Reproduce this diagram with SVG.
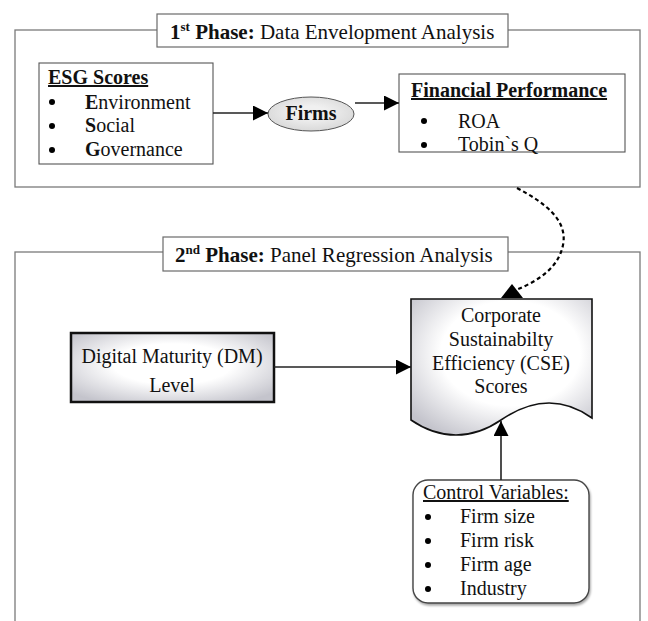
<svg xmlns="http://www.w3.org/2000/svg" width="648" height="621" viewBox="0 0 648 621">
<style>
text{font-family:"Liberation Serif","Times New Roman",serif;font-size:20px;fill:#111}
.b{font-weight:bold}
.u{text-decoration:underline}
.title{font-size:21px}
.outer{fill:none;stroke:#7a7a7a;stroke-width:1.3}
.tbox{fill:#fff;stroke:#6a6a6a;stroke-width:1.2}
.box{fill:#fff;stroke:#555;stroke-width:1.1}
.conn{stroke:#222;stroke-width:1.6;fill:none}
.mid{text-anchor:middle}
.dot{fill:#000}
</style>
<defs>
<marker id="ah" markerUnits="userSpaceOnUse" markerWidth="16" markerHeight="16" refX="15" refY="7.5" orient="auto">
<path d="M0,0 L15,7.5 L0,15 z" fill="#000"/>
</marker>
<radialGradient id="gDM" cx="50%" cy="45%" r="65%">
<stop offset="0.45" stop-color="#ffffff"/>
<stop offset="1" stop-color="#c4c4cc"/>
</radialGradient>
<radialGradient id="gCSE" cx="55%" cy="40%" r="70%">
<stop offset="0.55" stop-color="#ffffff"/>
<stop offset="1" stop-color="#c4c4cc"/>
</radialGradient>
<radialGradient id="gF" cx="50%" cy="45%" r="60%">
<stop offset="0.3" stop-color="#f0f0f0"/>
<stop offset="1" stop-color="#d6d6d6"/>
</radialGradient>
<filter id="sh" x="-5%" y="-5%" width="115%" height="120%">
<feDropShadow dx="1" dy="2" stdDeviation="1.2" flood-color="#000" flood-opacity="0.35"/>
</filter>
</defs>

<g id="phase1">
<rect class="outer" x="15" y="30" width="625" height="157"/>
<rect class="tbox" x="157" y="14" width="351" height="33"/>
<text class="title" x="170" y="39"><tspan class="b">1</tspan><tspan class="b" font-size="13" dy="-8">st</tspan><tspan class="b" dy="8"> Phase:</tspan> Data Envelopment Analysis</text>
</g>

<g id="esg">
<rect class="box" x="39" y="63" width="174" height="101"/>
<text class="b u" x="48" y="84">ESG Scores</text>
<circle class="dot" cx="52" cy="102" r="3"/><text x="85" y="109"><tspan class="b">E</tspan>nvironment</text>
<circle class="dot" cx="52" cy="126" r="3"/><text x="85" y="132"><tspan class="b">S</tspan>ocial</text>
<circle class="dot" cx="52" cy="150" r="3"/><text x="85" y="156"><tspan class="b">G</tspan>overnance</text>
</g>

<g id="firms">
<ellipse cx="311" cy="114" rx="43" ry="17" fill="url(#gF)" stroke="#555" stroke-width="1"/>
<text class="b mid" x="311" y="120">Firms</text>
</g>

<g id="financial">
<rect class="box" x="399" y="74" width="226" height="78"/>
<text class="b u" x="411" y="97">Financial Performance</text>
<circle class="dot" cx="424" cy="121" r="3"/><text x="458" y="128">ROA</text>
<circle class="dot" cx="424" cy="145" r="3"/><text x="458" y="151">Tobin`s Q</text>
</g>

<g id="phase2">
<rect class="outer" x="15" y="252" width="625" height="400"/>
<rect class="tbox" x="163" y="237" width="345" height="34"/>
<text class="title" x="175" y="262"><tspan class="b">2</tspan><tspan class="b" font-size="13" dy="-8">nd</tspan><tspan class="b" dy="8"> Phase:</tspan> Panel Regression Analysis</text>
</g>

<g id="dm">
<rect x="71" y="333" width="203" height="69" fill="url(#gDM)" stroke="#111" stroke-width="2.5"/>
<text class="mid" x="172" y="363">Digital Maturity (DM)</text>
<text class="mid" x="172" y="392">Level</text>
</g>

<g id="cse">
<path d="M411,299 H592 V418 C560,395 530,400 501,420 C472,440 440,440 411,420 Z" fill="url(#gCSE)" stroke="#111" stroke-width="1.6"/>
<text class="mid" x="501" y="322">Corporate</text>
<text class="mid" x="501" y="346">Sustainabilty</text>
<text class="mid" x="501" y="370">Efficiency (CSE)</text>
<text class="mid" x="501" y="393">Scores</text>
</g>

<g id="control">
<rect x="413" y="480" width="176" height="123" rx="15" ry="15" fill="#fff" stroke="#444" stroke-width="1.4" filter="url(#sh)"/>
<text class="u" x="423" y="499">Control Variables:</text>
<circle class="dot" cx="428" cy="517" r="3"/><text x="460" y="523">Firm size</text>
<circle class="dot" cx="428" cy="541" r="3"/><text x="460" y="547">Firm risk</text>
<circle class="dot" cx="428" cy="565" r="3"/><text x="460" y="571">Firm age</text>
<circle class="dot" cx="428" cy="589" r="3"/><text x="460" y="595">Industry</text>
</g>

<g id="connectors">
<line class="conn" x1="213" y1="113" x2="268" y2="113" marker-end="url(#ah)"/>
<line class="conn" x1="355" y1="103" x2="399" y2="103" marker-end="url(#ah)"/>
<line class="conn" x1="274" y1="367" x2="411" y2="367" marker-end="url(#ah)"/>
<line class="conn" x1="501" y1="480" x2="501" y2="421" marker-end="url(#ah)"/>
<path d="M517,188 C545,203 568,220 563,245 C558,270 535,282 516,290" fill="none" stroke="#000" stroke-width="2.2" stroke-dasharray="4,3"/>
<polygon points="512,284 501,298 523,298" fill="#000"/>
</g>
</svg>
